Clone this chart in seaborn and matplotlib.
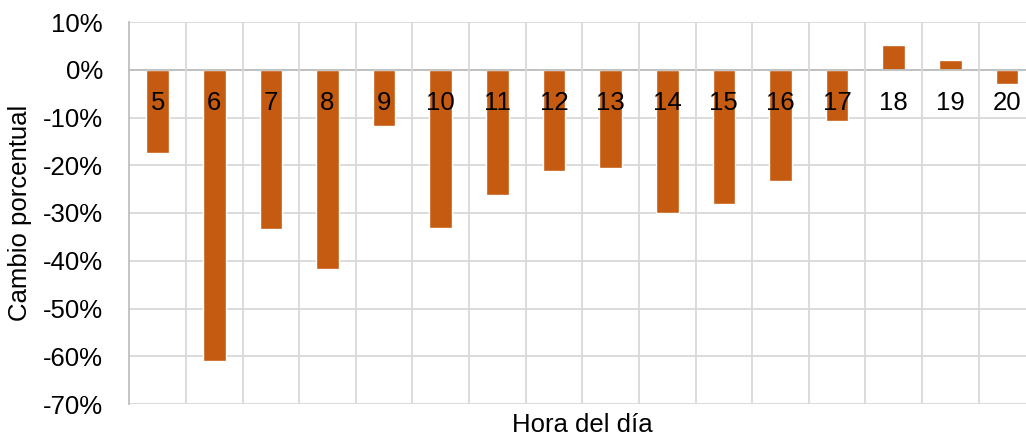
"""Cambio porcentual por hora del día (bar chart)."""

import matplotlib
import numpy as np
import seaborn as sns
from matplotlib.ticker import MultipleLocator, PercentFormatter

matplotlib.use("Agg")
import matplotlib.pyplot as plt

HOURS = ["5", "6", "7", "8", "9", "10", "11", "12",
         "13", "14", "15", "16", "17", "18", "19", "20"]
CHANGE_PCT = [-17.4, -60.9, -33.4, -41.8, -11.7, -33.1, -26.3, -21.3,
              -20.5, -29.9, -28.1, -23.3, -10.8, 5.1, 2.0, -2.9]

BAR_COLOR = "#C55A11"
GRID_COLOR = "#D9D9D9"
AXIS_COLOR = "#BFBFBF"
FONT_SIZE = 18.5


def main() -> None:
    sns.set_style("white")
    plt.rcParams["font.family"] = ["Liberation Sans", "DejaVu Sans"]
    plt.rcParams["axes.unicode_minus"] = False
    plt.rcParams["text.color"] = "black"
    plt.rcParams["axes.labelcolor"] = "black"
    plt.rcParams["xtick.color"] = "black"
    plt.rcParams["ytick.color"] = "black"

    fig = plt.figure(figsize=(10.26, 4.37), dpi=100)
    # plot area runs slightly past the right edge of the picture, as in the source
    ax = fig.add_axes([129.3 / 1026, 33 / 437, 906 / 1026, 382 / 437])

    sns.barplot(x=HOURS, y=CHANGE_PCT, color=BAR_COLOR, width=0.4,
                saturation=1, ax=ax, zorder=3)

    ax.set_ylim(-70, 10)
    ax.set_xlim(-0.5, len(HOURS) - 0.5)
    ax.yaxis.set_major_locator(MultipleLocator(10))
    ax.yaxis.set_major_formatter(PercentFormatter(decimals=0))

    # vertical grid between categories
    ax.set_xticks(np.arange(len(HOURS)) + 0.5, minor=True)
    ax.grid(axis="y", which="major", color=GRID_COLOR, linewidth=1.3)
    ax.grid(axis="x", which="minor", color=GRID_COLOR, linewidth=1.3)
    ax.tick_params(axis="x", which="both", length=0, pad=15,
                   labelsize=FONT_SIZE, colors="black")
    ax.tick_params(axis="y", length=0, pad=19, labelsize=FONT_SIZE,
                   colors="black")
    # hour labels sit on top of the bars; vertical grid never touches a bar
    ax.xaxis.set_zorder(5)

    # category axis crosses at zero
    ax.spines["bottom"].set_position(("data", 0))
    ax.spines["bottom"].set_color(AXIS_COLOR)
    ax.spines["bottom"].set_linewidth(1.3)
    ax.spines["bottom"].set_zorder(4)
    ax.spines["left"].set_color(AXIS_COLOR)
    ax.spines["left"].set_linewidth(1.3)
    ax.spines["top"].set_visible(False)
    ax.spines["right"].set_visible(False)

    ax.set_xlabel("Hora del día", fontsize=FONT_SIZE, color="black")
    ax.xaxis.set_label_coords(0.5, -0.024)
    ax.set_ylabel("Cambio porcentual", fontsize=FONT_SIZE, color="black")
    ax.yaxis.set_label_coords(-0.107, 0.5)

    fig.savefig("out.png", dpi=100)
    plt.close(fig)


if __name__ == "__main__":
    main()
